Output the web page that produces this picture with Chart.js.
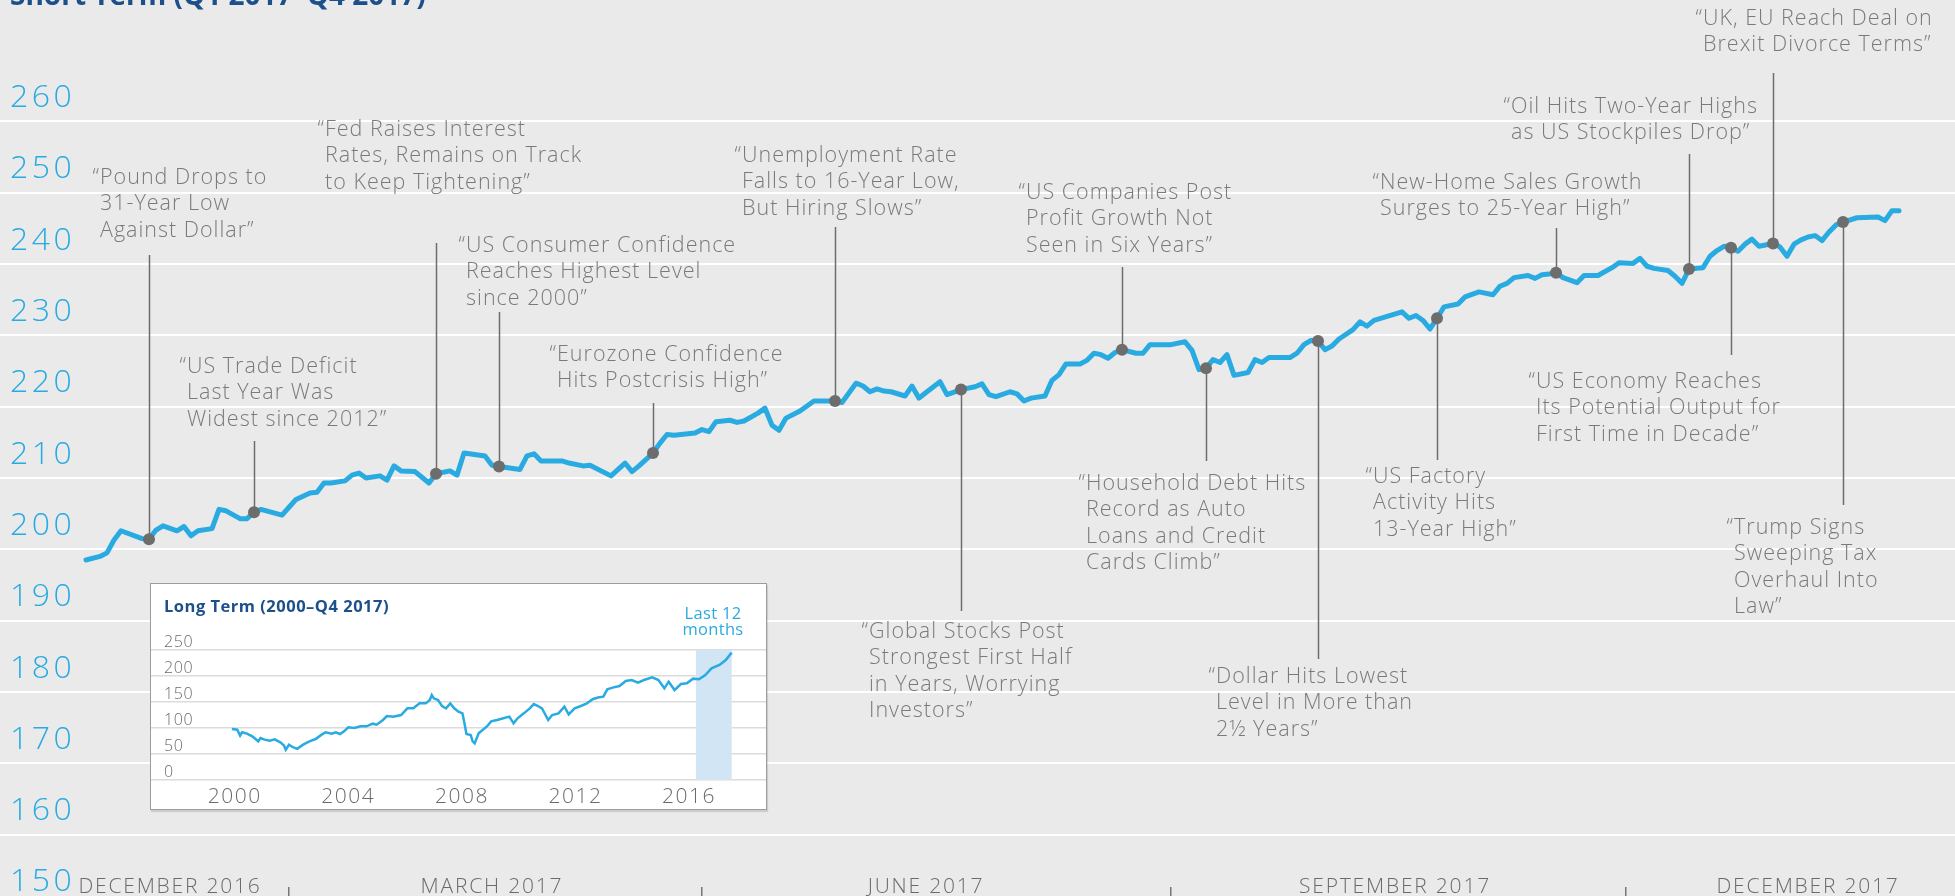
<!DOCTYPE html>
<html>
<head>
<meta charset="utf-8">
<script src="https://cdn.jsdelivr.net/npm/chart.js@4.4.1/dist/chart.umd.min.js"></script>
<style>
  html, body { margin: 0; padding: 0; background: #eaeaea; overflow: hidden; }
  #wrap { position: relative; width: 1955px; height: 896px; }
  #main { position: absolute; left: 0; top: 0; }
  #title { position: absolute; left: 10px; top: -20px; font: 700 28px/28px 'Open Sans', sans-serif; color: #1d4f8b; white-space: nowrap; }
  #inset { position: absolute; left: 150px; top: 583px; width: 617px; height: 227px; box-sizing: border-box;
           border: 1px solid #9c9c9c; background: #fff; box-shadow: 1px 2px 1px rgba(0,0,0,0.12); }
  #long { position: absolute; left: 0; top: 0; }
  #insetTitle { position: absolute; left: 13px; top: 12px; font: 700 16.5px/19px 'Open Sans', sans-serif; letter-spacing: 0.5px; color: #1d4f8b; white-space: nowrap; }
  #lastLabel { position: absolute; left: 507px; top: 21px; width: 110px; text-align: center; font: 400 16.5px/16px 'Open Sans', sans-serif; letter-spacing: 0.3px; color: #29abe2; }
</style>
</head>
<body>
<div id="wrap">
  <canvas id="main" width="1955" height="896"></canvas>
  <div id="title">Short Term (Q1 2017–Q4 2017)</div>
  <div id="inset">
    <canvas id="long" width="615" height="225"></canvas>
    <div id="insetTitle">Long Term (2000–Q4 2017)</div>
    <div id="lastLabel">Last 12<br>months</div>
  </div>
</div>
<script>
// Short term: trading session number and index level
const days = [0, 2, 3, 4, 5, 8, 9, 10, 11, 13, 14, 15, 16, 18, 19, 20, 22, 23, 24, 25,
  28, 29, 30, 32, 33, 34, 35, 37, 38, 39, 40, 42, 43, 44, 45, 47, 49, 50, 52, 53,
  54, 57, 58, 59, 62, 63, 64, 65, 68, 69, 71, 72, 75, 77, 78, 79, 81, 82, 83, 84,
  87, 88, 89, 90, 92, 93, 94, 96, 97, 98, 99, 100, 102, 103, 104, 107, 108, 110, 111, 112,
  113, 114, 115, 117, 118, 119, 120, 122, 123, 125, 127, 128, 129, 130, 132, 133, 134, 135, 137, 138,
  139, 140, 142, 143, 144, 145, 146, 147, 148, 150, 151, 152, 155, 157, 158, 159, 160, 161, 162, 163,
  164, 166, 167, 168, 169, 172, 173, 174, 175, 176, 177, 178, 179, 181, 182, 183, 184, 186, 188, 189,
  190, 191, 192, 193, 194, 196, 197, 199, 201, 202, 203, 204, 206, 207, 208, 209, 210, 211, 213, 214,
  216, 218, 219, 221, 222, 223, 224, 226, 227, 228, 229, 231, 232, 233, 234, 235, 236, 237, 238, 239,
  241, 242, 243, 244, 245, 246, 247, 248, 249, 250, 251, 253, 256, 257, 258, 259];
const values = [198.5, 199.0, 199.5, 201.3, 202.6, 201.5, 201.4, 202.7, 203.3, 202.6, 203.2, 201.9, 202.6, 202.9, 205.6, 205.4, 204.3, 204.3, 205.2, 205.6,
  204.8, 205.9, 207.0, 207.9, 208.0, 209.3, 209.3, 209.6, 210.4, 210.7, 210.0, 210.3, 209.7, 211.7, 211.0, 210.9, 209.3, 210.6, 211.0, 210.4,
  213.5, 213.1, 211.8, 211.6, 211.2, 213.1, 213.4, 212.4, 212.4, 212.1, 211.7, 211.8, 210.3, 212.1, 210.9, 211.7, 213.5, 214.9, 216.1, 216.0,
  216.3, 216.8, 216.5, 217.9, 218.1, 217.8, 218.0, 219.1, 219.8, 217.4, 216.7, 218.4, 219.4, 220.1, 220.8, 220.8, 220.6, 223.3, 222.9, 222.1,
  222.5, 222.2, 222.1, 221.5, 222.9, 221.2, 222.0, 223.5, 221.7, 222.4, 222.8, 223.2, 221.7, 221.4, 222.1, 221.8, 220.8, 221.2, 221.5, 223.7,
  224.5, 226.0, 226.0, 226.5, 227.5, 227.3, 226.8, 227.6, 228.0, 227.5, 227.5, 228.7, 228.7, 229.1, 227.9, 225.2, 225.4, 226.6, 226.2, 227.3,
  224.4, 224.8, 226.6, 226.2, 226.9, 226.9, 227.5, 228.7, 229.3, 229.2, 228.0, 228.5, 229.5, 230.8, 231.9, 231.3, 232.1, 232.7, 233.3, 232.4,
  232.8, 232.1, 230.9, 232.4, 234.0, 234.4, 235.4, 236.1, 235.7, 236.9, 237.3, 238.1, 238.4, 238.0, 238.5, 238.6, 238.8, 238.1, 237.4, 238.4,
  238.4, 239.5, 240.2, 240.1, 240.8, 239.7, 239.4, 239.1, 238.3, 237.3, 239.3, 239.5, 241.1, 241.9, 242.5, 242.3, 241.8, 242.8, 243.5, 242.5,
  242.9, 242.4, 241.1, 242.8, 243.4, 243.8, 244.0, 243.3, 244.5, 245.5, 245.9, 246.5, 246.6, 246.1, 247.5, 247.5];

const yTicks = [150, 160, 170, 180, 190, 200, 210, 220, 230, 240, 250, 260];
const quarterTicks = [29, 88, 155, 220];
const monthTicks = [12, 58, 120, 187, 246];
const monthLabels = ['DECEMBER 2016', 'MARCH 2017', 'JUNE 2017', 'SEPTEMBER 2017', 'DECEMBER 2017'];

// headlines, pinned to sessions
const noteDays = [9, 24, 50, 59, 81, 107, 125, 148, 160, 176, 193, 210, 229, 235, 241, 251];
const noteTexts = [
  ['“Pound Drops to', '31-Year Low', 'Against Dollar”'],
  ['“US Trade Deficit', 'Last Year Was', 'Widest since 2012”'],
  ['“Fed Raises Interest', 'Rates, Remains on Track', 'to Keep Tightening”'],
  ['“US Consumer Confidence', 'Reaches Highest Level', 'since 2000”'],
  ['“Eurozone Confidence', 'Hits Postcrisis High”'],
  ['“Unemployment Rate', 'Falls to 16-Year Low,', 'But Hiring Slows”'],
  ['“Global Stocks Post', 'Strongest First Half', 'in Years, Worrying', 'Investors”'],
  ['“US Companies Post', 'Profit Growth Not', 'Seen in Six Years”'],
  ['“Household Debt Hits', 'Record as Auto', 'Loans and Credit', 'Cards Climb”'],
  ['“Dollar Hits Lowest', 'Level in More than', '2½ Years”'],
  ['“US Factory', 'Activity Hits', '13-Year High”'],
  ['“New-Home Sales Growth', 'Surges to 25-Year High”'],
  ['“Oil Hits Two-Year Highs', 'as US Stockpiles Drop”'],
  ['“US Economy Reaches', 'Its Potential Output for', 'First Time in Decade”'],
  ['“UK, EU Reach Deal on', 'Brexit Divorce Terms”'],
  ['“Trump Signs', 'Sweeping Tax', 'Overhaul Into', 'Law”']
];
// layout of each headline: text left, first line centre, end of leader line (px)
const noteLayout = [
  [100, 176, 255], [187, 365, 441], [325, 128, 243], [466, 244, 312],
  [557, 353, 403], [742, 154, 227], [869, 630, 611], [1026, 191, 267],
  [1086, 482, 461], [1216, 675, 659], [1373, 475, 460], [1380, 181, 228],
  [1511, 105, 154], [1536, 380, 355], [1703, 17, 73], [1734, 526, 505]
];

// Long term inset
const longYears = [1999.90, 2000.09, 2000.19, 2000.26, 2000.43, 2000.62, 2000.83, 2000.91, 2001.05, 2001.24,
  2001.41, 2001.62, 2001.74, 2001.80, 2001.91, 2002.05, 2002.20, 2002.41, 2002.63, 2002.85,
  2003.06, 2003.20, 2003.42, 2003.56, 2003.71, 2003.85, 2004.00, 2004.21, 2004.43, 2004.64,
  2004.86, 2005.00, 2005.22, 2005.36, 2005.58, 2005.86, 2006.08, 2006.29, 2006.51, 2006.73,
  2006.87, 2006.94, 2007.01, 2007.16, 2007.30, 2007.44, 2007.59, 2007.73, 2007.88, 2008.02,
  2008.09, 2008.16, 2008.31, 2008.38, 2008.45, 2008.59, 2008.88, 2009.03, 2009.24, 2009.46,
  2009.67, 2009.82, 2009.96, 2010.18, 2010.39, 2010.53, 2010.68, 2010.82, 2011.04, 2011.18,
  2011.40, 2011.61, 2011.76, 2011.97, 2012.19, 2012.40, 2012.62, 2012.83, 2012.98, 2013.12,
  2013.34, 2013.55, 2013.77, 2013.98, 2014.20, 2014.41, 2014.70, 2014.92, 2015.13, 2015.28,
  2015.49, 2015.71, 2015.92, 2016.14, 2016.35, 2016.57, 2016.79, 2017.07, 2017.29, 2017.50];
const longValues = [98, 96.8, 85.3, 91.7, 89.1, 84, 74.4, 80.8, 77.6, 75.6,
  78.2, 72, 66, 58, 68, 63, 60, 68, 74.4, 78.8,
  87.2, 91.7, 89.1, 91.7, 88.5, 93.6, 101.3, 100, 103.2, 103.2,
  108.3, 106.4, 115.4, 123, 121.8, 125, 137.8, 137.8, 147.4, 147.4,
  153.8, 163.5, 157, 153.8, 142.3, 137.8, 147.4, 137.8, 131.4, 128.2,
  109, 88.5, 86.5, 74.4, 70.5, 89.7, 103, 112.8, 115.4, 118.6,
  121.8, 109, 118.6, 128.2, 137.8, 146, 142.3, 137.8, 115.4, 125,
  128.2, 141, 126.3, 137.8, 142.3, 147.4, 155.8, 159, 160.3, 174.4,
  178.2, 180.8, 190.4, 192.3, 187.2, 192.3, 197.4, 192.3, 176.3, 189.1,
  173, 184.6, 185.9, 194.9, 193.6, 201.9, 214.7, 221.2, 230.8, 244.9];
const longYTicks = [0, 50, 100, 150, 200, 250];
const longXTicks = [2000, 2004, 2008, 2012, 2016];
const lastYear = [2016.24, 2017.50];

const lightFont = size => ({ family: "'Open Sans', sans-serif", size: size, weight: '300' });

// no extra room for labels: gridlines run edge to edge
const flatY = s => { s.width = 0; s.paddingTop = 0; s.paddingBottom = 0; };

// wider letter spacing for some axes' labels (the original face is wider)
const spacingPlugin = {
  id: 'spacing',
  beforeDraw(chart, args, opts) {
    Object.entries(opts.scales || {}).forEach(([id, px]) => {
      const scale = chart.scales[id];
      if (!scale || scale._spaced) return;
      const drawLabels = scale.drawLabels.bind(scale);
      scale.drawLabels = area => {
        scale.ctx.save();
        scale.ctx.letterSpacing = px;
        drawLabels(area);
        scale.ctx.restore();
      };
      scale._spaced = true;
    });
  }
};

// leader lines under the line, headline text on top
const notesPlugin = {
  id: 'notes',
  beforeDatasetsDraw(chart) {
    const { ctx, scales: { x, y } } = chart;
    ctx.save();
    ctx.strokeStyle = '#6d6d6d';
    ctx.lineWidth = 1.5;
    noteDays.forEach((d, k) => {
      const i = days.indexOf(d);
      const px = Math.round(x.getPixelForValue(d)) + 0.5;
      const py = y.getPixelForValue(values[i]);
      ctx.beginPath();
      ctx.moveTo(px, py);
      ctx.lineTo(px, noteLayout[k][2]);
      ctx.stroke();
    });
    ctx.restore();
  },
  afterDraw(chart) {
    const ctx = chart.ctx;
    ctx.save();
    ctx.font = "300 21.5px 'Open Sans', sans-serif";
    ctx.letterSpacing = '1px';
    ctx.fillStyle = '#7a7a7a';
    ctx.textBaseline = 'alphabetic';
    const quoteW = ctx.measureText('“').width;
    noteTexts.forEach((lines, k) => {
      const [tx, ty] = noteLayout[k];
      lines.forEach((line, j) => {
        const lx = line.startsWith('“') ? tx - quoteW : tx;
        ctx.fillText(line, lx, ty + j * 26.5 + 7.5);
      });
    });
    ctx.restore();
  }
};

const mainChart = new Chart(document.getElementById('main'), {
  type: 'line',
  data: {
    datasets: [{
      data: days.map((d, i) => ({ x: d, y: values[i] })),
      borderColor: '#29abe2',
      borderWidth: 5,
      borderJoinStyle: 'round',
      borderCapStyle: 'round',
      tension: 0,
      pointRadius: ctx => noteDays.includes(days[ctx.dataIndex]) ? 6 : 0,
      pointBackgroundColor: '#6d6d6d',
      pointBorderWidth: 0
    }]
  },
  options: {
    responsive: false,
    animation: false,
    events: [],
    layout: { padding: 0 },
    plugins: {
      legend: { display: false },
      tooltip: { enabled: false },
      spacing: { scales: { y: '3.5px', xm: '1.8px' } }
    },
    scales: {
      x: {
        type: 'linear', position: 'bottom', weight: 0,
        min: -12.286, max: 267,
        afterBuildTicks: s => { s.ticks = quarterTicks.map(v => ({ value: v })); },
        afterFit: s => { s.height = 9; },
        ticks: { display: false },
        grid: { drawOnChartArea: false, drawTicks: true, tickLength: 9, color: '#777777', lineWidth: 1.5 },
        border: { display: false }
      },
      xm: {
        axis: 'x', type: 'linear', position: 'bottom', weight: 1,
        min: -12.286, max: 267,
        afterBuildTicks: s => { s.ticks = monthTicks.map(v => ({ value: v })); },
        afterFit: s => { s.height = 0; },
        grid: { display: false, drawTicks: false },
        border: { display: false },
        ticks: {
          mirror: true, padding: -4, autoSkip: false, maxRotation: 0,
          font: lightFont(21), color: '#6b6b6b',
          callback: (v, i) => monthLabels[i]
        }
      },
      y: {
        type: 'linear', position: 'left',
        min: 152.64, max: 277.04,
        afterBuildTicks: s => { s.ticks = yTicks.map(v => ({ value: v })); },
        afterFit: flatY,
        grid: { color: '#ffffff', lineWidth: 2, drawTicks: false },
        border: { display: false },
        ticks: {
          mirror: true, padding: 10, labelOffset: -23.5, autoSkip: false,
          font: lightFont(32), color: '#29abe2'
        }
      }
    }
  },
  plugins: [spacingPlugin, notesPlugin]
});

// shaded last-12-months band in the inset
const shadePlugin = {
  id: 'shade',
  beforeDatasetsDraw(chart) {
    const { ctx, scales: { x, y } } = chart;
    const l = x.getPixelForValue(lastYear[0]);
    const r = x.getPixelForValue(lastYear[1]);
    const t = y.getPixelForValue(250);
    const b = y.getPixelForValue(0);
    ctx.save();
    ctx.fillStyle = '#d2e5f4';
    ctx.fillRect(l, t, r - l, b - t);
    ctx.restore();
  }
};

const longChart = new Chart(document.getElementById('long'), {
  type: 'line',
  data: {
    datasets: [{
      data: longYears.map((t, i) => ({ x: t, y: longValues[i] })),
      borderColor: '#29abe2',
      borderWidth: 2.5,
      pointRadius: 0,
      tension: 0
    }]
  },
  options: {
    responsive: false,
    animation: false,
    events: [],
    layout: { padding: { top: 66 } },
    plugins: {
      legend: { display: false },
      tooltip: { enabled: false },
      spacing: { scales: { x: '1.5px', y: '0.6px' } }
    },
    scales: {
      x: {
        type: 'linear', min: 1997.053, max: 2018.708,
        afterBuildTicks: s => { s.ticks = longXTicks.map(v => ({ value: v })); },
        afterFit: s => { s.height = 29; },
        grid: { display: false, drawTicks: false },
        border: { display: false },
        ticks: { padding: 4, autoSkip: false, maxRotation: 0, font: lightFont(21), color: '#6b6b6b', callback: v => String(v) }
      },
      y: {
        type: 'linear', min: 0, max: 250,
        afterBuildTicks: s => { s.ticks = longYTicks.map(v => ({ value: v })); },
        afterFit: flatY,
        grid: { color: '#dcdcdc', lineWidth: 1.5, drawTicks: false },
        border: { display: false },
        ticks: { mirror: true, padding: 13, labelOffset: -8, autoSkip: false, font: lightFont(16), color: '#6b6b6b' }
      }
    }
  },
  plugins: [spacingPlugin, shadePlugin]
});
</script>
</body>
</html>
